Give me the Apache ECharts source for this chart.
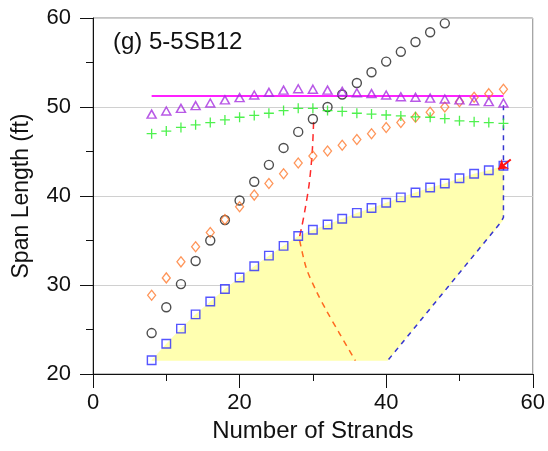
<!DOCTYPE html>
<html>
<head>
<meta charset="utf-8">
<script src="https://cdn.jsdelivr.net/npm/echarts@6/dist/echarts.min.js"></script>
<style>
html,body{margin:0;padding:0;background:#fff;}
#c{width:548px;height:451px;}
</style>
</head>
<body>
<div id="c"></div>
<script>
// ---- data ----
var panelTitle = "(g) 5-5SB12";
var xTitle = "Number of Strands";
var yTitle = "Span Length (ft)";

var strands = [8,10,12,14,16,18,20,22,24,26,28,30,32,34,36,38,40,42,44,46,48,50,52,54,56];
var circleVals = [24.6,27.5,30.1,32.7,35.0,37.3,39.5,41.6,43.5,45.4,47.2,48.65,50.0,51.4,52.7,53.9,55.1,56.2,57.3,58.4,59.4];
var diamondVals = [28.85,30.8,32.6,34.3,35.9,37.35,38.8,40.1,41.4,42.5,43.7,44.5,45.05,45.7,46.35,47.0,47.7,48.25,48.85,49.4,50.0,50.6,51.1,51.5,52.0];
var triangleVals = [49.2,49.55,49.85,50.15,50.45,50.8,51.05,51.35,51.65,51.9,52.05,52.0,51.9,51.75,51.6,51.5,51.35,51.15,51.1,51.0,50.9,50.8,50.7,50.6,50.45];
var plusVals = [47.0,47.3,47.7,48.0,48.25,48.55,48.85,49.05,49.3,49.6,49.85,49.85,49.6,49.5,49.3,49.2,49.1,49.0,48.9,48.85,48.7,48.45,48.35,48.25,48.15];
var squareVals = [21.55,23.4,25.1,26.7,28.15,29.55,30.85,32.1,33.3,34.4,35.5,36.2,36.8,37.45,38.1,38.65,39.25,39.85,40.4,40.95,41.4,42.0,42.5,42.9,43.4];

var magentaLine = [[8,51.25],[56,51.25]];
var regionCorners = [[56,37.3],[40.2,21.5],[8,21.5]];
var blueDashed = [[56,50.2],[56,37.6],[55.6,37.0],[40.2,21.5]];
var redDashed = [[30.1,48.3],[29.9,44.8],[29.5,41.4],[29.0,38.8],[28.5,36.6],[28.2,35.5]];
var orangeDashed = [[28.2,35.0],[29.1,31.9],[30.5,29.25],[31.8,27.2],[33.6,24.6],[35.8,21.5]];
var arrowLine = [[57.0,44.1],[55.3,43.0]];

var xTicks = [0,20,40,60];
var yTicks = [20,30,40,50,60];

function pairs(xs, ys){ var o=[]; for(var i=0;i<ys.length;i++){o.push([xs[i],ys[i]]);} return o; }

var regionPoly = pairs(strands, squareVals).concat(regionCorners);

var FONT = "Liberation Sans, Arial, sans-serif";
var chart = echarts.init(document.getElementById('c'), null, {renderer:'canvas'});

var plusPath = 'path://M0,4.35H10V5.65H0Z M4.35,0H5.65V10H4.35Z';

chart.setOption({
  animation:false,
  backgroundColor:'#fff',
  title:{
    text:panelTitle, left:108, top:25,
    textStyle:{fontFamily:FONT, fontSize:24, fontWeight:'normal', color:'#111'}
  },
  grid:{left:93, right:15, top:18, bottom:77, show:true, borderColor:'#888', borderWidth:1, backgroundColor:'transparent'},
  xAxis:{
    type:'value', min:xTicks[0], max:xTicks[xTicks.length-1], interval:20,
    name:xTitle, nameLocation:'middle', nameGap:40,
    nameTextStyle:{fontFamily:FONT, fontSize:24, color:'#111'},
    axisLine:{show:true, onZero:false, lineStyle:{color:'#111', width:1}},
    axisTick:{show:true, length:14, lineStyle:{color:'#111'}},
    minorTick:{show:true, splitNumber:2, length:7, lineStyle:{color:'#111'}},
    axisLabel:{fontFamily:FONT, fontSize:22, color:'#111', margin:18},
    splitLine:{show:false}
  },
  yAxis:{
    type:'value', min:yTicks[0], max:yTicks[yTicks.length-1], interval:10,
    name:yTitle, nameLocation:'middle', nameGap:60, nameRotate:90,
    nameTextStyle:{fontFamily:FONT, fontSize:23, color:'#111'},
    axisLine:{show:true, onZero:false, lineStyle:{color:'#111', width:1}},
    axisTick:{show:true, length:13, lineStyle:{color:'#111'}},
    minorTick:{show:true, splitNumber:2, length:7, lineStyle:{color:'#111'}},
    axisLabel:{fontFamily:FONT, fontSize:22, color:'#111', margin:22},
    splitLine:{show:true, lineStyle:{color:'#d0d0d0', width:1}}
  },
  series:[
    {
      type:'custom', z:1, silent:true,
      data:[0],
      renderItem:function(params, api){
        var pts = regionPoly.map(function(p){ return api.coord(p); });
        return {type:'polygon', shape:{points:pts}, style:{fill:'#ffffb0', stroke:'none'}};
      }
    },
    {type:'line', z:2, data:blueDashed, symbol:'none', silent:true,
      lineStyle:{color:'#3535d0', width:1.5, type:[5,5]}},
    {type:'line', z:2, data:redDashed, symbol:'none', smooth:0.3, silent:true,
      lineStyle:{color:'#ff2a2a', width:1.5, type:[7,5]}},
    {type:'line', z:2, data:orangeDashed, symbol:'none', smooth:0.3, silent:true,
      lineStyle:{color:'#ff6a20', width:1.5, type:[6,5]}},
    {type:'line', z:3, data:magentaLine, symbol:'none', silent:true,
      lineStyle:{color:'#ff22ff', width:2}},
    {type:'scatter', z:4, data:pairs(strands, circleVals), symbol:'circle', symbolSize:9,
      itemStyle:{color:'transparent', borderColor:'#222', borderWidth:1.4}},
    {type:'scatter', z:4, data:pairs(strands, diamondVals), symbol:'diamond', symbolSize:[8,10],
      itemStyle:{color:'transparent', borderColor:'#ff7a30', borderWidth:1.3}},
    {type:'scatter', z:4, data:pairs(strands, triangleVals), symbol:'triangle', symbolSize:[9,8],
      itemStyle:{color:'transparent', borderColor:'#a62fe0', borderWidth:1.5}},
    {type:'scatter', z:4, data:pairs(strands, plusVals), symbol:plusPath, symbolSize:10,
      itemStyle:{color:'#22ee22'}},
    {type:'scatter', z:4, data:pairs(strands, squareVals), symbol:'rect', symbolSize:8.5,
      itemStyle:{color:'transparent', borderColor:'#2a2aff', borderWidth:1.4}},
    {type:'lines', coordinateSystem:'cartesian2d', z:5, silent:true,
      symbol:['none','arrow'], symbolSize:9,
      data:[{coords:arrowLine}],
      lineStyle:{color:'#ff1010', width:2, opacity:1}}
  ]
});
</script>
</body>
</html>
